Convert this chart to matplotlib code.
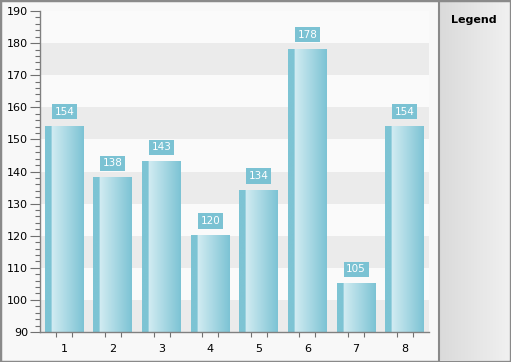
import matplotlib
matplotlib.use("Agg")
import matplotlib.pyplot as plt
import numpy as np
from matplotlib.patches import Rectangle
from matplotlib.lines import Line2D
from matplotlib.colors import to_rgb

categories = ["1", "2", "3", "4", "5", "6", "7", "8"]
values = [154, 138, 143, 120, 134, 178, 105, 154]
y_min, y_max = 90, 190

W, H = 511, 362
fig = plt.figure(figsize=(W / 100, H / 100), dpi=100)
fig.patch.set_facecolor("#f8f8f8")

# outer border
fig.patches.append(Rectangle((0, 0), 1, 1, transform=fig.transFigure, fill=False,
                             ec="#8a8a8a", lw=2.5, zorder=0))

# legend panel with gradient
lax = fig.add_axes([439 / W, 2 / H, 70 / W, 358 / H])
g = np.linspace(0, 1, 100)
c0, c1 = np.array(to_rgb("#dadada")), np.array(to_rgb("#f0f0f0"))
grad = c0[None, :] * (1 - g[:, None]) + c1[None, :] * g[:, None]
lax.imshow(grad[None, :, :], extent=(0, 1, 0, 1), aspect="auto")
lax.set_xlim(0, 1)
lax.set_ylim(0, 1)
lax.axis("off")
lax.text(0.5, 1 - 18 / 358, "Legend", ha="center", va="center",
         fontsize=8, fontweight="bold", color="black", transform=lax.transAxes)
fig.lines.append(Line2D([439 / W, 439 / W], [0, 1], transform=fig.transFigure,
                        color="#8a8a8a", lw=1.5))

# main axes
ax = fig.add_axes([40 / W, (H - 332) / H, 389 / W, 321 / H])
ax.set_facecolor("#fafafa")
for lo in range(y_min, y_max, 20):
    ax.axhspan(lo, lo + 10, color="#ebebeb", lw=0, zorder=0)

x = np.arange(1, len(categories) + 1)
bw = 0.8

# bar gradient
n = 200
t = np.linspace(0, 1, n)
edge = np.array(to_rgb("#7dc4d4"))
light = np.array(to_rgb("#d2ecf2"))
right = np.array(to_rgb("#7cc3d4"))
cols = np.zeros((n, 3))
for i, tt in enumerate(t):
    if tt < 0.17:
        cols[i] = edge
    else:
        f = (tt - 0.17) / 0.83
        cols[i] = light * (1 - f) + right * f
bar_img = cols[None, :, :]

for xi, v in zip(x, values):
    ax.imshow(bar_img, extent=(xi - bw / 2, xi + bw / 2, y_min, v), aspect="auto",
              zorder=2, interpolation="bilinear")
    ax.annotate(str(v), (xi, v), xytext=(0, 7), textcoords="offset points",
                ha="center", va="bottom", color="white", fontsize=7.5,
                bbox=dict(boxstyle="square,pad=0.25", fc="#7bc2d3", ec="none"),
                zorder=4)

ax.set_xlim(0.5, len(categories) + 0.5)
ax.set_ylim(y_min, y_max)

for s in ["top", "right"]:
    ax.spines[s].set_visible(False)
for s in ["left", "bottom"]:
    ax.spines[s].set_color("#808080")
    ax.spines[s].set_linewidth(1)

ax.set_yticks(np.arange(y_min, y_max + 1, 10))
ax.set_yticks(np.arange(y_min, y_max + 1, 2), minor=True)
ax.tick_params(axis="y", which="major", length=7.2, width=0.8, color="#707070",
               labelsize=8, pad=1.5, labelcolor="black")
ax.tick_params(axis="y", which="minor", length=3.6, width=0.8, color="#707070")

ax.set_xticks(x)
ax.set_xticklabels(categories)
minor_x = np.sort(np.concatenate([x - 0.165, x + 0.165]))
ax.set_xticks(minor_x, minor=True)
ax.tick_params(axis="x", which="major", length=0, pad=9, labelsize=8, labelcolor="black")
ax.tick_params(axis="x", which="minor", length=3.6, width=0.8, color="#707070")

fig.savefig("out.png", dpi=100, facecolor=fig.get_facecolor())
